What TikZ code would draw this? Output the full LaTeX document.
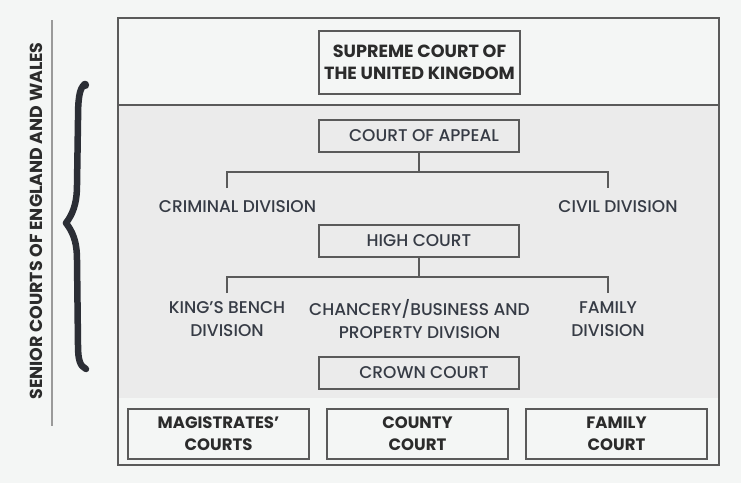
\documentclass[tikz,border=0pt]{standalone}
\usepackage{fontspec}
\setmainfont{Poppins}[UprightFont={* Medium},BoldFont={* Bold}]
\definecolor{bgc}{HTML}{F4F6F5}
\definecolor{bandc}{HTML}{EBEBEB}
\definecolor{linec}{HTML}{5A5A5A}
\definecolor{txtc}{HTML}{363B45}
\definecolor{boldc}{HTML}{2B2B2B}
\definecolor{sidec}{HTML}{9A9A9A}
\definecolor{bracec}{HTML}{2B2E35}
\begin{document}
\begin{tikzpicture}[x=1pt,y=-1pt,
  frame/.style={draw=linec, line width=1.3pt},
  box/.style={draw=linec, line width=1.3pt, inner sep=0pt, align=center, text=txtc, font=\fontsize{17}{23}\selectfont},
  bbox/.style={draw=linec, line width=1.3pt, inner sep=0pt, align=center, text=boldc, font=\fontsize{16.5}{22}\selectfont\bfseries},
  lbl/.style={inner sep=0pt, align=center, text=txtc, font=\fontsize{17}{23}\selectfont},
  conn/.style={draw=linec, line width=1.3pt},
  bracestyle/.style={draw=bracec, line width=6.5pt, line cap=round, line join=round}
]
\useasboundingbox (0,0) rectangle (741,483);
\fill[bgc] (0,0) rectangle (741,483);
\fill[bandc] (119,105) rectangle (718,398);
\draw[frame] (118,18) rectangle (719,465);
\draw[frame] (118,105) -- (719,105);

% side label
\draw[draw=sidec, line width=1.2pt] (52,20) -- (52,426);
\node[rotate=90, inner sep=0pt, text=boldc, font=\fontsize{17.4}{20}\selectfont\bfseries] (side) at (36,221) {SENIOR COURTS OF ENGLAND AND WALES};
\draw[bracestyle] (85,84) .. controls (79,88) and (78,100) .. (78,120) -- (77,185)
  .. controls (77,205) and (72,215) .. (66,223)
  .. controls (72,231) and (77,240) .. (77,260) -- (78,345)
  .. controls (78,360) and (80,366) .. (86,369);
\fill[bracec] (85,85) circle (4.2pt);

% top
\node[bbox, font=\fontsize{17.6}{22}\selectfont\bfseries, minimum width=201pt, minimum height=63pt] (sc) at (419.5,62.5) {SUPREME COURT OF\\THE UNITED KINGDOM};

% court of appeal
\node[box, minimum width=200pt, minimum height=32pt] (ca) at (419,136) {\hspace*{10pt}COURT OF APPEAL};
\coordinate (j1) at (419,172);
\coordinate (cd1) at (227,188);
\coordinate (cd2) at (608,188);
\draw[conn] (ca.south) -- (j1);
\draw[conn] (cd1) |- (j1) -| (cd2);
\node[lbl] (crim) at (237.5,207) {CRIMINAL DIVISION};
\node[lbl] (civ) at (618,207) {CIVIL DIVISION};

% high court
\node[box, minimum width=200pt, minimum height=32pt] (hc) at (419,241) {HIGH COURT};
\coordinate (j2) at (419,277);
\coordinate (hd1) at (227,293);
\coordinate (hd2) at (608,293);
\draw[conn] (hc.south) -- (j2);
\draw[conn] (hd1) |- (j2) -| (hd2);
\node[lbl] (kb) at (227,319.5) {KING’S BENCH\\DIVISION};
\node[lbl] (ch) at (419.5,319.5) {CHANCERY/BUSINESS AND\\PROPERTY DIVISION};
\node[lbl] (fd) at (608,319.5) {FAMILY\\DIVISION};

% crown court
\node[box, minimum width=200pt, minimum height=32pt] (cc) at (419,373) {\hspace*{10pt}CROWN COURT};

% bottom
\node[bbox, minimum width=181pt, minimum height=50pt] (mc) at (218.5,434) {MAGISTRATES’\\COURTS};
\node[bbox, minimum width=181pt, minimum height=50pt] (co) at (417.5,434) {COUNTY\\COURT};
\node[bbox, minimum width=181pt, minimum height=50pt] (fc) at (616.5,434) {FAMILY\\COURT};
\end{tikzpicture}
\end{document}
